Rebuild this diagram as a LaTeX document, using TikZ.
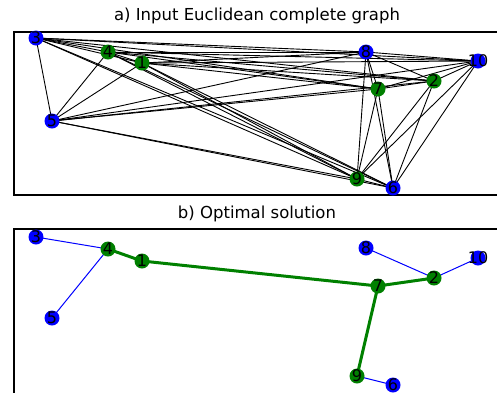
\documentclass[tikz,border=0pt]{standalone}
\usepackage{fontspec}
\setmainfont{DejaVu Sans}
\definecolor{mgreen}{RGB}{0,128,0}
\definecolor{mblue}{RGB}{0,0,255}
\tikzset{
  vtx/.style={circle,inner sep=0pt,minimum size=15pt,font=\fontsize{16}{16}\selectfont},
  vb/.style={vtx,fill=mblue},
  vg/.style={vtx,fill=mgreen},
  frame/.style={line width=2pt},
  title/.style={font=\fontsize{16.5}{17}\selectfont},
  kedge/.style={line width=0.9pt},
  bedge/.style={mblue,line width=1pt},
  gedge/.style={mgreen,line width=3pt},
}
\newcommand{\lbl}[1]{\makebox[0pt]{\raisebox{-0.36em}[0pt][0pt]{#1}}}
\begin{document}
\begin{tikzpicture}[x=1pt,y=-1pt]
\useasboundingbox (0,0) rectangle (497,392);
\clip (0,0) rectangle (497,392);
% titles
\node[title] (ta) at (257,16) {a) Input Euclidean complete graph};
\node[title] (tb) at (257,214) {b) Optimal solution};
% frames
\draw[frame] (14,32) rectangle (510,195);
\draw[frame] (14,400) -- (14,229) -- (510,229);
% top panel nodes
\coordinate (p1) at (142,63);
\coordinate (p2) at (434,81);
\coordinate (p3) at (36,38);
\coordinate (p4) at (108,52);
\coordinate (p5) at (52,121);
\coordinate (p6) at (393,188);
\coordinate (p7) at (378,89);
\coordinate (p8) at (366,52);
\coordinate (p9) at (357,179);
\coordinate (p10) at (478,61);
\foreach \i in {1,...,10}{
  \foreach \j in {1,...,10}{
    \ifnum\i<\j
      \draw[kedge] (p\i) -- (p\j);
    \fi
  }
}
\node[vg] (a1) at (p1) {\lbl{1}};
\node[vg] (a2) at (p2) {\lbl{2}};
\node[vb] (a3) at (p3) {\lbl{3}};
\node[vg] (a4) at (p4) {\lbl{4}};
\node[vb] (a5) at (p5) {\lbl{5}};
\node[vb] (a6) at (p6) {\lbl{6}};
\node[vg] (a7) at (p7) {\lbl{7}};
\node[vb] (a8) at (p8) {\lbl{8}};
\node[vg] (a9) at (p9) {\lbl{9}};
\node[vb] (a10) at (p10) {\lbl{10}};
% bottom panel
\coordinate (q1) at (142,261);
\coordinate (q2) at (434,278);
\coordinate (q3) at (36,237);
\coordinate (q4) at (108,249);
\coordinate (q5) at (52,318);
\coordinate (q6) at (393,385);
\coordinate (q7) at (378,286);
\coordinate (q8) at (366,248);
\coordinate (q9) at (357,376);
\coordinate (q10) at (478,258);
\draw[bedge] (q3) -- (q4);
\draw[bedge] (q4) -- (q5);
\draw[bedge] (q8) -- (q2);
\draw[bedge] (q2) -- (q10);
\draw[bedge] (q9) -- (q6);
\draw[gedge] (q4) -- (q1);
\draw[gedge] (q1) -- (q7);
\draw[gedge] (q7) -- (q2);
\draw[gedge] (q7) -- (q9);
\node[vg] (b1) at (q1) {\lbl{1}};
\node[vg] (b2) at (q2) {\lbl{2}};
\node[vb] (b3) at (q3) {\lbl{3}};
\node[vg] (b4) at (q4) {\lbl{4}};
\node[vb] (b5) at (q5) {\lbl{5}};
\node[vb] (b6) at (q6) {\lbl{6}};
\node[vg] (b7) at (q7) {\lbl{7}};
\node[vb] (b8) at (q8) {\lbl{8}};
\node[vg] (b9) at (q9) {\lbl{9}};
\node[vb] (b10) at (q10) {\lbl{10}};
\end{tikzpicture}
\end{document}
